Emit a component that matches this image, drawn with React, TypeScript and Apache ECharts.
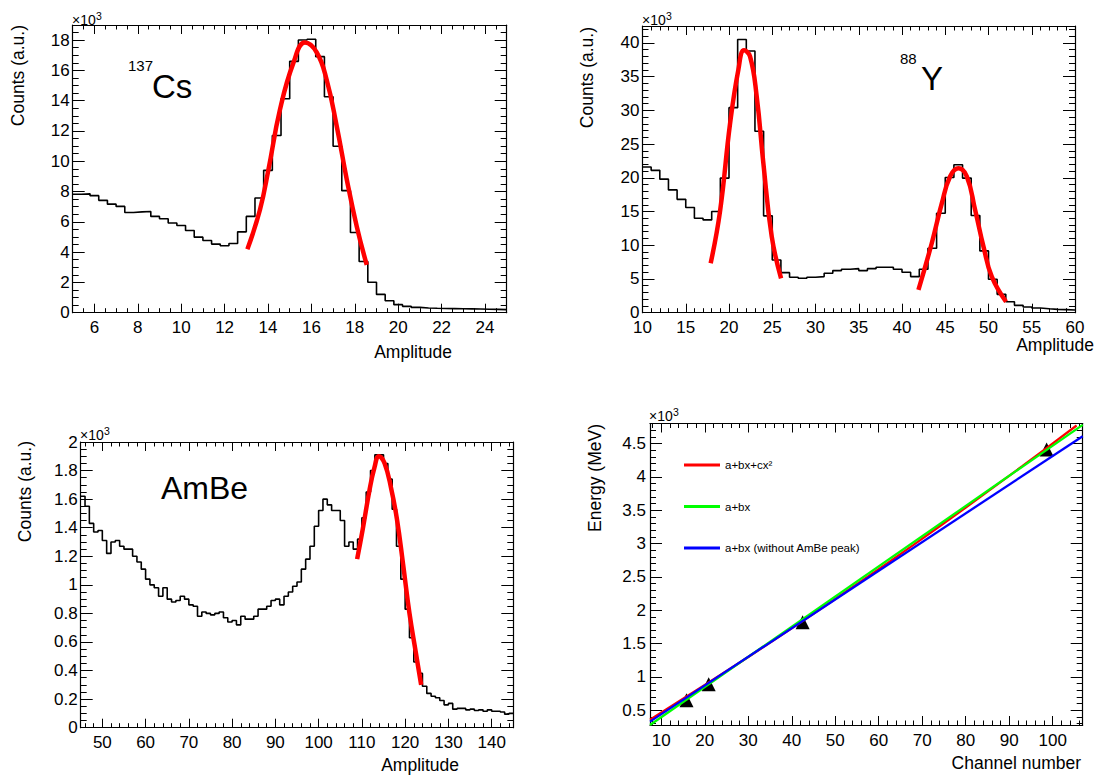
import React, { useEffect, useRef } from 'react';
import * as echarts from 'echarts';

// ---------------- 137Cs spectrum (counts in units of 10^3) ----------------
const csBinStart = 5;
const csBinWidth = 0.4;
const csCounts = [
  7.82, 7.85, 7.73, 7.42, 7.17, 7.02, 6.62, 6.66, 6.68, 6.36,
  6.2, 5.92, 5.76, 5.43, 4.99, 4.77, 4.53, 4.42, 4.57, 5.34,
  6.36, 7.57, 9.4, 11.7, 14.13, 16.6, 18.01, 18.06, 16.91, 14.26,
  10.99, 8.06, 5.3, 3.38, 2.01, 1.21, 0.79, 0.53, 0.42, 0.35,
  0.31, 0.29, 0.28, 0.27, 0.26, 0.25, 0.24, 0.23, 0.22, 0.2,
];
const csFit = [
  [13.05, 4.19], [13.63, 6.8], [14.02, 9.45], [14.55, 13.4], [15.17, 16.5],
  [15.7, 17.84], [16.24, 17.2], [16.7, 15.4], [17.17, 12.3], [17.63, 8.8],
  [18.09, 5.7], [18.55, 3.16],
];

// ---------------- 88Y spectrum ----------------
const yBinStart = 10;
const yBinWidth = 1;
const yCounts = [
  21.6, 21.1, 19.8, 18.2, 16.8, 15.6, 14.0, 13.76, 15.0, 19.95,
  30.4, 40.5, 38.8, 26.9, 14.36, 7.82, 5.94, 5.25, 5.1, 5.25,
  5.35, 5.84, 6.24, 6.44, 6.53, 6.24, 6.53, 6.73, 6.73, 6.44,
  5.99, 5.35, 6.44, 9.55, 14.75, 20.05, 21.93, 19.95, 14.4, 9.16,
  4.95, 2.72, 1.63, 1.09, 0.84, 0.69, 0.59, 0.5, 0.45, 0.4,
];
const yFitLow = [
  [17.88, 7.33], [18.96, 15.0], [20.12, 28.0], [21.08, 36.0], [21.74, 38.9],
  [22.43, 38.0], [23.2, 32.1], [23.97, 22.2], [24.94, 11.3], [26.02, 5.1],
];
const yFitHigh = [
  [41.9, 3.37], [43.44, 10.3], [44.6, 16.2], [45.56, 20.2], [46.53, 21.4],
  [47.49, 20.2], [48.45, 15.25], [49.42, 9.8], [50.38, 5.35], [52.03, 1.63],
];

// ---------------- AmBe spectrum ----------------
const amBinStart = 45;
const amBinWidth = 1;
const amCounts = [
  1.62, 1.55, 1.43, 1.37, 1.38, 1.31, 1.22, 1.30, 1.31, 1.27,
  1.25, 1.25, 1.20, 1.16, 1.11, 1.04, 1.00, 0.98, 0.92, 0.98,
  0.90, 0.88, 0.89, 0.92, 0.90, 0.86, 0.85, 0.78, 0.81, 0.80,
  0.79, 0.80, 0.81, 0.77, 0.74, 0.75, 0.72, 0.78, 0.76, 0.76,
  0.78, 0.83, 0.83, 0.85, 0.89, 0.90, 0.86, 0.92, 0.95, 0.99,
  1.02, 1.11, 1.18, 1.27, 1.41, 1.52, 1.60, 1.56, 1.52, 1.52,
  1.45, 1.27, 1.30, 1.25, 1.32, 1.47, 1.65, 1.80, 1.91, 1.91,
  1.85, 1.74, 1.53, 1.27, 1.04, 0.83, 0.63, 0.46, 0.38, 0.29,
  0.24, 0.22, 0.21, 0.19, 0.16, 0.17, 0.13, 0.135, 0.135, 0.125,
  0.13, 0.12, 0.125, 0.115, 0.125, 0.115, 0.115, 0.11, 0.095, 0.10,
];
const amFit = [
  [108.9, 1.18], [110.2, 1.39], [111.8, 1.67], [112.9, 1.82], [113.9, 1.9],
  [115.2, 1.855], [116.8, 1.67], [118.1, 1.46], [119.5, 1.15], [121.0, 0.8],
  [122.5, 0.52], [123.7, 0.3],
];

// ---------------- Calibration (energy in units of 10^3) ----------------
const calChannels = [15.8, 20.9, 42.5, 98.6];
const calEnergies = [0.65, 0.89, 1.82, 4.41];
const fitQuad = [
  [7.4, 0.36], [20, 0.88], [30, 1.3], [43, 1.86], [56.3, 2.45],
  [68, 2.98], [80, 3.54], [93, 4.16], [105.5, 4.77],
];
const fitLin = [[7.4, 0.28], [106.9, 4.78]];
const fitLinNoAmBe = [[7.4, 0.33], [106.9, 4.61]];
const legendNames = ['a+bx+cx²', 'a+bx', 'a+bx (without AmBe peak)'];

const FONT = '"Liberation Sans", Arial, Helvetica, sans-serif';
const BLACK = '#000000';

function stepData(start: number, width: number, counts: number[]) {
  const pts = counts.map((c, i) => [start + i * width, c]);
  pts.push([start + counts.length * width, counts[counts.length - 1]]);
  return pts;
}

function axisPair(
  dim: 'x' | 'y',
  grid: number,
  min: number,
  max: number,
  minorSplit: number,
  showMin: boolean,
  showMax: boolean,
  tickLen: number,
  margin: number
) {
  const common: any = {
    type: 'value',
    gridIndex: grid,
    min,
    max,
    splitNumber: 10,
    axisLine: { show: true, onZero: false, lineStyle: { color: BLACK, width: 1.2 } },
    axisTick: { show: true, inside: true, length: tickLen, lineStyle: { color: BLACK, width: 1 } },
    minorTick: { show: true, splitNumber: minorSplit, length: tickLen / 2, lineStyle: { color: BLACK, width: 1 } },
    splitLine: { show: false },
    minorSplitLine: { show: false },
  };
  const main = {
    ...common,
    position: dim === 'x' ? 'bottom' : 'left',
    axisLabel: {
      show: true,
      color: BLACK,
      fontFamily: FONT,
      fontSize: 17,
      margin,
      showMinLabel: showMin,
      showMaxLabel: showMax,
    },
  };
  const mirror = { ...common, position: dim === 'x' ? 'top' : 'right', axisLabel: { show: false } };
  return [main, mirror];
}

function txt(text: string, x: number, y: number, size: number, align: string, rotation = 0) {
  return {
    type: 'text',
    x,
    y,
    rotation,
    silent: true,
    style: {
      text,
      fontSize: size,
      fontFamily: FONT,
      fill: BLACK,
      align,
      verticalAlign: 'middle',
      textAlign: align,
      textVerticalAlign: 'middle',
    },
  };
}

function times10cubed(x: number, y: number) {
  return [txt('×10', x, y, 14, 'left'), txt('3', x + 24, y - 4.5, 10.5, 'left')];
}

export default function App() {
  const ref = useRef<HTMLDivElement>(null);

  useEffect(() => {
    if (!ref.current) return;
    const chart = echarts.init(ref.current, null, { renderer: 'svg' });

    const grids = [
      { left: 72.7, top: 25, width: 434, height: 287.7 },
      { left: 642.5, top: 26, width: 432.5, height: 286.7 },
      { left: 80.7, top: 442, width: 432.6, height: 285.7 },
      { left: 650, top: 423.5, width: 432.7, height: 301.5 },
    ].map((g) => ({ ...g, containLabel: false, outerBoundsMode: 'none', show: false }));

    const xAxis = [
      ...axisPair('x', 0, 5, 25, 4, false, false, 9, 6),
      ...axisPair('x', 1, 10, 60, 5, true, true, 9, 6),
      ...axisPair('x', 2, 45, 145, 5, false, false, 9, 6),
      ...axisPair('x', 3, 7.4, 106.9, 5, false, false, 9, 7),
    ];
    const yAxis = [
      ...axisPair('y', 0, 0, 19, 4, true, false, 12, 3),
      ...axisPair('y', 1, 0, 42.5, 5, true, false, 12, 3),
      ...axisPair('y', 2, 0, 2, 4, true, true, 12, 3),
      ...axisPair('y', 3, 0.28, 4.8, 5, false, false, 12, 4),
    ];

    const hist = (idx: number, data: number[][]) => ({
      type: 'line',
      xAxisIndex: idx * 2,
      yAxisIndex: idx * 2,
      data,
      step: 'end',
      symbol: 'none',
      silent: true,
      lineStyle: { color: BLACK, width: 1.6 },
      z: 2,
    });
    const redFit = (idx: number, data: number[][]) => ({
      type: 'line',
      xAxisIndex: idx * 2,
      yAxisIndex: idx * 2,
      data,
      smooth: 0.45,
      symbol: 'none',
      silent: true,
      lineStyle: { color: '#ff0000', width: 4.5, cap: 'butt' },
      z: 3,
    });
    const calLine = (name: string, color: string, data: number[][], smooth: number) => ({
      name,
      type: 'line',
      xAxisIndex: 6,
      yAxisIndex: 6,
      data,
      smooth,
      symbol: 'none',
      silent: true,
      color,
      itemStyle: { color },
      lineStyle: { color, width: 2.3 },
      z: 4,
    });

    const option: any = {
      animation: false,
      backgroundColor: '#ffffff',
      grid: grids,
      xAxis,
      yAxis,
      legend: {
        data: legendNames,
        orient: 'vertical',
        left: 679,
        top: 454,
        itemWidth: 36,
        itemHeight: 3,
        itemGap: 29.5,
        icon: 'rect',
        selectedMode: false,
        textStyle: { fontFamily: FONT, fontSize: 11.5, color: BLACK },
      },
      series: [
        hist(0, stepData(csBinStart, csBinWidth, csCounts)),
        redFit(0, csFit),
        hist(1, stepData(yBinStart, yBinWidth, yCounts)),
        redFit(1, yFitLow),
        redFit(1, yFitHigh),
        hist(2, stepData(amBinStart, amBinWidth, amCounts)),
        redFit(2, amFit),
        {
          name: 'points',
          type: 'scatter',
          xAxisIndex: 6,
          yAxisIndex: 6,
          data: calChannels.map((c, i) => [c, calEnergies[i]]),
          symbol: 'triangle',
          symbolSize: 14,
          itemStyle: { color: BLACK, opacity: 1 },
          silent: true,
          z: 3,
        },
        calLine(legendNames[0], '#ff0000', fitQuad, 0.3),
        calLine(legendNames[1], '#00ff00', fitLin, 0),
        calLine(legendNames[2], '#0000ff', fitLinNoAmBe, 0),
      ],
      graphic: [
        ...times10cubed(72, 20),
        ...times10cubed(642, 20),
        ...times10cubed(80, 435),
        ...times10cubed(649, 416),
        txt('137', 128, 65, 15, 'left'),
        txt('Cs', 152, 86, 33, 'left'),
        txt('88', 900, 58, 15, 'left'),
        txt('Y', 921, 78, 33, 'left'),
        txt('AmBe', 161, 488, 32, 'left'),
        txt('Amplitude', 452, 352, 17.5, 'right'),
        txt('Amplitude', 1094, 345, 17.5, 'right'),
        txt('Amplitude', 459, 765, 17.5, 'right'),
        txt('Channel number', 1081, 763, 17.5, 'right'),
        txt('Counts (a.u.)', 18, 25, 17.5, 'right', Math.PI / 2),
        txt('Counts (a.u.)', 587, 27, 17.5, 'right', Math.PI / 2),
        txt('Counts (a.u.)', 25, 441, 17.5, 'right', Math.PI / 2),
        txt('Energy (MeV)', 595, 424, 17.5, 'right', Math.PI / 2),
      ],
    };

    chart.setOption(option);
    return () => chart.dispose();
  }, []);

  return (
    <div
      ref={ref}
      style={{ position: 'fixed', left: 0, top: 0, width: 1108, height: 776, background: '#fff' }}
    />
  );
}
